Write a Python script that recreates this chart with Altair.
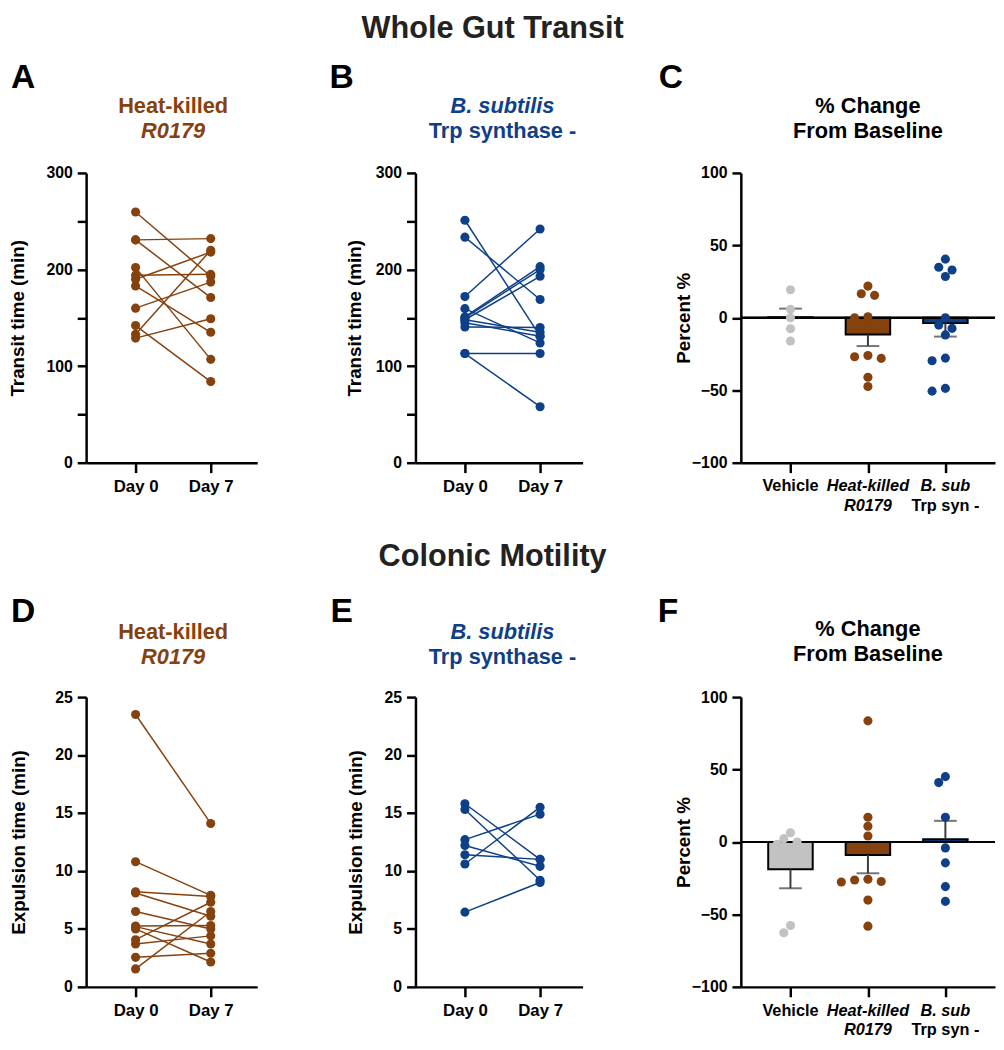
import json
import numpy as np
import pandas as pd
import altair as alt

FONT = "Liberation Sans"
BROWN = "#86420E"
BLUE = "#0D4087"
GRAY_PT = "#9A9A9A"
GRAY_BAR = "#C2C2C2"
ERR = "#3A3A3A"

# ---------------- data ----------------
days = ["Day 0", "Day 7"]

# A: whole gut transit, heat-killed R0179 (min)
a_day0 = [259.5, 230.7, 230.7, 202, 194, 190, 183, 160, 142, 133, 129]
a_day7 = [193, 232, 171, 107, 195, 218, 135, 187, 84, 220, 149]

# B: whole gut transit, B. subtilis Trp synthase - (min)
b_day0 = [251, 233.5, 172, 151, 150, 148, 159.5, 148, 145, 140.5, 113, 113]
b_day7 = [131, 169, 242, 203, 200, 193, 124, 135, 131, 140, 113, 58]

# C: % change from baseline, transit
c_vehicle = [19.4, 5.9, 0, -7.5, -16]
c_heat = [21.9, 15.5, 16.6, 0.7, 0, -26, -28, -26.9, -41, -47.4]
c_bsub = [40.5, 34.9, 33, 28.5, 0, -5, -7.3, -11.8, -29.6, -27.8, -50.6, -48.7]

# D: colonic motility, heat-killed R0179 (min)
d_day0 = [23.5, 10.8, 8.2, 8.1, 6.5, 5.25, 5.2, 5.0, 4.07, 3.7, 2.55, 1.55]
d_day7 = [14.1, 7.9, 7.8, 6.1, 5.0, 5.3, 3.7, 2.15, 7.3, 4.4, 2.9, 6.5]

# E: colonic motility, B. subtilis Trp synthase - (min)
e_day0 = [15.8, 15.3, 12.7, 12.2, 11.4, 10.6, 6.45]
e_day7 = [11.0, 9.2, 14.9, 10.4, 11.0, 15.5, 9.0]

# F: % change from baseline, colonic motility
f_vehicle = [2.3, 6.4, 0, -1.6, -57.6, -62.6]
f_heat = [83.6, 17.1, 10.9, 4.1, -27.3, -25.7, -27.6, -26.2, -40.1, -58.1]
f_bsub = [45.1, 41, 17.1, -4.1, -14.4, -30.8, -41]

cat_line1 = ["Vehicle", "Heat-killed", "B. sub"]
cat_line2 = ["", "R0179", "Trp syn -"]
cat_italic1 = [False, True, True]
cat_italic2 = [False, True, False]

# ---------------- layout ----------------
W1, W2, W3 = 173, 169, 257
H = 293
DAY_STEP, DAY_LEFT = 76.0, 50.0
CAT_STEP, CAT_LEFT = 81.5, 47.0


def txt(s, x, y, size, color="black", italic=False, align="center", weight="bold"):
    return alt.Chart(alt.Data(values=[{"t": s}])).mark_text(
        font=FONT, fontSize=size, fontWeight=weight,
        fontStyle="italic" if italic else "normal",
        color=color, align=align, baseline="alphabetic",
    ).encode(x=alt.value(x), y=alt.value(y), text="t:N")


def day_panel(d0, d7, color, W, ydom, yticks, ylab_mod, ytitle, tpad):
    rows = []
    for i, (a, b) in enumerate(zip(d0, d7)):
        rows.append({"id": i, "d": 0, "v": a})
        rows.append({"id": i, "d": 1, "v": b})
    df = pd.DataFrame(rows)
    x = alt.X("d:Q",
              scale=alt.Scale(domain=[-DAY_LEFT / DAY_STEP, (W - DAY_LEFT) / DAY_STEP], nice=False, zero=False),
              axis=alt.Axis(values=[0, 1], labelExpr=f"{json.dumps(days)}[datum.value]", title=None,
                            tickSize=10, labelFontSize=17, labelPadding=6, labelFlush=False))
    y = alt.Y("v:Q", scale=alt.Scale(domain=ydom, nice=False),
              axis=alt.Axis(values=yticks, title=ytitle, titlePadding=tpad, labelFlush=False,
                            labelExpr=f"datum.value % {ylab_mod} === 0 ? datum.label : ''"))
    base = alt.Chart(df)
    lines = base.mark_line(color=color, strokeWidth=1.5).encode(x=x, y=y, detail="id:N")
    pts = base.mark_circle(color=color, size=85, opacity=1).encode(x=x, y=y)
    return [lines, pts]


def swarm(values, px_per_unit, step_px=7.0, min_d=8.5):
    order = np.argsort(-np.array(values), kind="stable")
    placed = []
    offs = [0.0] * len(values)
    cands = [0]
    for k in range(1, 10):
        cands += [-k, k]
    for i in order:
        ypx = values[i] * px_per_unit
        o = 0.0
        for c in cands:
            o = c * step_px
            if all((o - po) ** 2 + (ypx - py) ** 2 >= min_d ** 2 for po, py in placed):
                break
        offs[i] = o
        placed.append((o, ypx))
    return offs


def bar_panel(groups, tpad):
    pt_colors = [GRAY_PT, BROWN, BLUE]
    bar_colors = [GRAY_BAR, BROWN, BLUE]
    ppu = H / 200.0
    prow, srow = [], []
    for gi, vals in enumerate(groups):
        offs = swarm(vals, ppu)
        for v, o in zip(vals, offs):
            prow.append({"g": gi, "xp": gi + o / CAT_STEP, "v": v})
        arr = np.array(vals, dtype=float)
        m = arr.mean()
        sem = arr.std(ddof=1) / np.sqrt(len(arr))
        srow.append({"g": gi, "mean": m, "zero": 0.0, "end": m + (sem if m >= 0 else -sem)})
    pdf, sdf = pd.DataFrame(prow), pd.DataFrame(srow)
    xs = alt.Scale(domain=[-CAT_LEFT / CAT_STEP, (W3 - CAT_LEFT) / CAT_STEP], nice=False, zero=False)
    xax = alt.Axis(values=[0, 1, 2], labels=False, title=None, tickSize=10)
    ys = alt.Scale(domain=[-100, 100], nice=False)
    yax = alt.Axis(values=[-100, -50, 0, 50, 100], title="Percent %", titlePadding=tpad, labelFlush=False)
    colg = lambda rng: alt.Color("g:N", scale=alt.Scale(domain=[0, 1, 2], range=rng), legend=None)
    bars = alt.Chart(sdf).mark_bar(size=45, stroke="black", strokeWidth=2, orient="vertical").encode(
        x=alt.X("g:Q", scale=xs, axis=xax), y=alt.Y("mean:Q", scale=ys, axis=yax), y2="zero:Q",
        color=colg(bar_colors))
    zero = alt.Chart(sdf).mark_rule(color="black", strokeWidth=2).encode(y=alt.datum(0))
    err = alt.Chart(sdf).mark_rule(color=ERR, strokeWidth=2).encode(
        x=alt.X("g:Q", scale=xs), y=alt.Y("mean:Q", scale=ys), y2="end:Q")
    cap = alt.Chart(sdf).mark_tick(color=ERR, thickness=2, size=23, orient="horizontal").encode(
        x=alt.X("g:Q", scale=xs), y=alt.Y("end:Q", scale=ys))
    pts = alt.Chart(pdf).mark_circle(size=85, opacity=1).encode(
        x=alt.X("xp:Q", scale=xs), y=alt.Y("v:Q", scale=ys), color=colg(pt_colors))
    layers = [bars, zero, err, cap, pts]
    lab_rows = []
    for gi in range(3):
        lab_rows.append({"g": gi, "t": cat_line1[gi], "ln": 1, "it": cat_italic1[gi]})
        if cat_line2[gi]:
            lab_rows.append({"g": gi, "t": cat_line2[gi], "ln": 2, "it": cat_italic2[gi]})
    ldf = pd.DataFrame(lab_rows)
    for ln, yy in [(1, H + 29), (2, H + 49)]:
        for it in [True, False]:
            sub = ldf[(ldf.ln == ln) & (ldf.it == it)]
            if len(sub) == 0:
                continue
            layers.append(alt.Chart(sub).mark_text(
                font=FONT, fontSize=16.5, fontWeight="bold", fontStyle="italic" if it else "normal",
                color="black", align="center", baseline="alphabetic").encode(
                x=alt.X("g:Q", scale=xs), y=alt.value(yy), text="t:N"))
    return layers


# ---------------- panels ----------------
A = alt.layer(
    *day_panel(a_day0, a_day7, BROWN, W1, [0, 300], list(range(0, 301, 50)), 100, "Transit time (min)", 19),
    txt("A", -76, -86, 34, align="left"),
    txt("Heat-killed", 88, -61, 22, BROWN),
    txt("R0179", 88, -35, 22, BROWN, italic=True),
).properties(width=W1, height=H)

B = alt.layer(
    *day_panel(b_day0, b_day7, BLUE, W2, [0, 300], list(range(0, 301, 50)), 100, "Transit time (min)", 11),
    txt("B", -87, -86, 34, align="left"),
    txt("B. subtilis", 88, -61, 22, BLUE, italic=True),
    txt("Trp synthase -", 88, -35, 22, BLUE),
    txt("Whole Gut Transit", 78, -136, 31, "#222222"),
).properties(width=W2, height=H)

C = alt.layer(
    *bar_panel([c_vehicle, c_heat, c_bsub], -2),
    txt("C", -83, -86, 34, align="left"),
    txt("% Change", W3 / 2, -61, 22),
    txt("From Baseline", W3 / 2, -35, 22),
).properties(width=W3, height=H)

D = alt.layer(
    *day_panel(d_day0, d_day7, BROWN, W1, [0, 25], list(range(0, 26, 5)), 5, "Expulsion time (min)", 27),
    txt("D", -76, -76, 34, align="left"),
    txt("Heat-killed", 88, -59, 22, BROWN),
    txt("R0179", 88, -33, 22, BROWN, italic=True),
).properties(width=W1, height=H)

E = alt.layer(
    *day_panel(e_day0, e_day7, BLUE, W2, [0, 25], list(range(0, 26, 5)), 5, "Expulsion time (min)", 19),
    txt("E", -86, -76, 34, align="left"),
    txt("B. subtilis", 88, -59, 22, BLUE, italic=True),
    txt("Trp synthase -", 88, -33, 22, BLUE),
    txt("Colonic Motility", 78, -133, 31, "#222222"),
).properties(width=W2, height=H)

F = alt.layer(
    *bar_panel([f_vehicle, f_heat, f_bsub], -2),
    txt("F", -84, -76, 34, align="left"),
    txt("% Change", W3 / 2, -62, 22),
    txt("From Baseline", W3 / 2, -36, 22),
).properties(width=W3, height=H)

chart = alt.concat(
    A, B, C, D, E, F, columns=3, spacing={"row": 237, "column": 160}, bounds="flush"
).properties(
    padding={"left": 0, "top": 0, "right": 0, "bottom": 0}
).configure_view(stroke=None).configure_axis(
    domainColor="black", domainWidth=2.5, tickColor="black", tickWidth=2.5, tickSize=9,
    labelFont=FONT, labelFontSize=16, labelFontWeight="bold", labelColor="black", labelPadding=5,
    titleFont=FONT, titleFontSize=19, titleFontWeight="bold", titleColor="black", grid=False,
)

chart.save("out.html", embed_options={"renderer": "svg", "actions": False})
